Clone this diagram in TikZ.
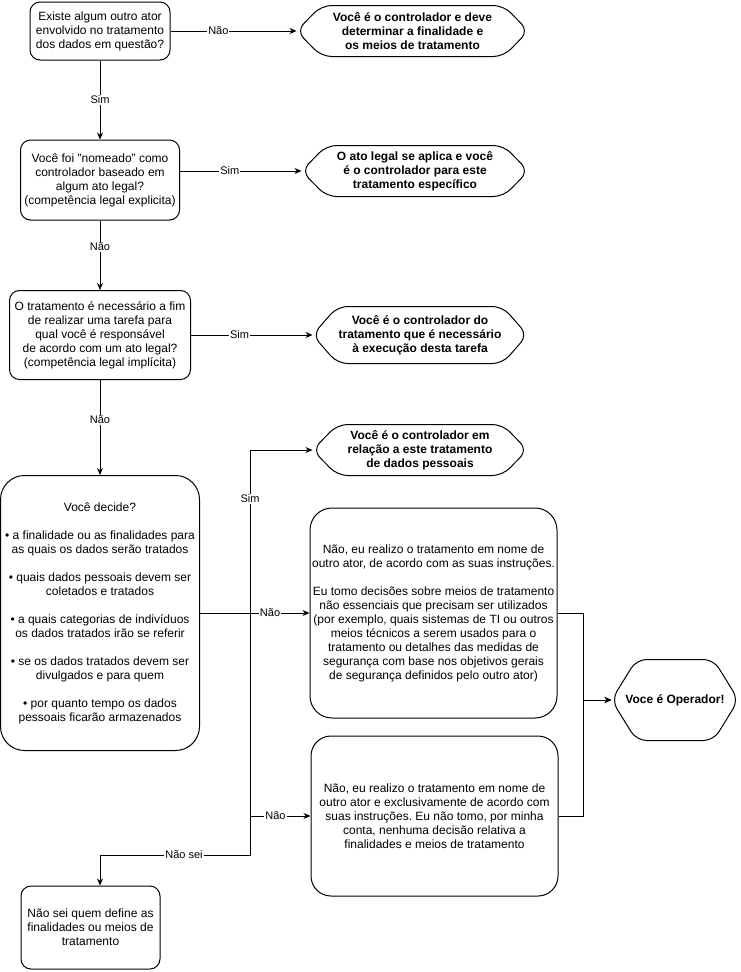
\documentclass[tikz,border=0pt]{standalone}
\usepackage{fontspec}
\setmainfont{Liberation Sans}
\frenchspacing
\usetikzlibrary{arrows.meta,calc}
\tikzset{
  question/.style={
    draw,
    rounded corners=10pt,
    align=center,
    inner sep=0pt,
    font=\fontsize{12}{14}\selectfont
  },
  answer/.style={
    question,
    rounded corners=24pt
  },
  verdict/.style={
    align=center,
    inner sep=0pt,
    font=\fontsize{12}{14}\selectfont\bfseries
  },
  choice/.style={
    fill=white,
    inner sep=1pt,
    font=\fontsize{11}{13}\selectfont
  },
  flow/.style={-{Stealth[length=7pt,width=6pt]}}
}
\newcommand{\hexframe}[1]{%
  \draw[rounded corners=10pt] (#1.north) -- ([xshift=-25pt]#1.north east) -- (#1.east)
    -- ([xshift=-25pt]#1.south east) -- ([xshift=25pt]#1.south west) -- (#1.west)
    -- ([xshift=25pt]#1.north west) -- cycle;}

\begin{document}
\begin{tikzpicture}[x=1pt,y=-1pt,line width=1pt]
  \useasboundingbox (0,0) rectangle (741,972);
  % perguntas
  \node[question,minimum width=140pt,minimum height=58pt] (q1) at (100,31)
    {Existe algum outro ator\\envolvido no tratamento\\dos dados em questão?};
  \node[question,minimum width=159pt,minimum height=80pt] (q2) at (100,180)
    {Você foi "nomeado" como\\controlador baseado em\\algum ato legal?\\(competência legal explicita)};
  \node[question,minimum width=181pt,minimum height=89pt] (q3) at (100,335)
    {O tratamento é necessário a fim\\de realizar uma tarefa para\\qual você é responsável\\de acordo com um ato legal?\\(competência legal implícita)};
  \node[answer,minimum width=199pt,minimum height=275pt] (q4) at (100,613)
    {Você decide?\\[14pt]
     • a finalidade ou as finalidades para\\as quais os dados serão tratados\\[14pt]
     • quais dados pessoais devem ser\\coletados e tratados\\[14pt]
     • a quais categorias de indivíduos\\os dados tratados irão se referir\\[14pt]
     • se os dados tratados devem ser\\divulgados e para quem\\[14pt]
     • por quanto tempo os dados\\pessoais ficarão armazenados};
  \node[answer,rounded corners=22pt,minimum width=247pt,minimum height=210pt] (a) at (433.5,613)
    {Não, eu realizo o tratamento em nome de\\outro ator, de acordo com as suas instruções.\\[14pt]
     Eu tomo decisões sobre meios de tratamento\\não essenciais que precisam ser utilizados\\(por exemplo, quais sistemas de TI ou outros\\meios técnicos a serem usados para o\\tratamento ou detalhes das medidas de\\segurança com base nos objetivos gerais\\de segurança definidos pelo outro ator)};
  \node[answer,rounded corners=20pt,minimum width=247pt,minimum height=160pt] (b) at (434.5,816)
    {Não, eu realizo o tratamento em nome de\\outro ator e exclusivamente de acordo com\\suas instruções. Eu não tomo, por minha\\conta, nenhuma decisão relativa a\\finalidades e meios de tratamento};
  \node[question,minimum width=139pt,minimum height=83pt] (c) at (90.5,927.5)
    {Não sei quem define as\\finalidades ou meios de\\tratamento};
  % respostas
  \node[verdict,minimum width=231pt,minimum height=50pt] (r1) at (412.5,31)
    {Você é o controlador e deve\\determinar a finalidade e\\os meios de tratamento};
  \node[verdict,minimum width=226pt,minimum height=50pt] (r2) at (415,171)
    {O ato legal se aplica e você\\é o controlador para este\\tratamento específico};
  \node[verdict,minimum width=214pt,minimum height=56pt] (r3) at (420,335)
    {Você é o controlador do\\tratamento que é necessário\\à execução desta tarefa};
  \node[verdict,minimum width=214pt,minimum height=50pt] (r4) at (420,450)
    {Você é o controlador em\\relação a este tratamento\\de dados pessoais};
  \node[verdict,minimum width=126pt,minimum height=80pt] (op) at (675,700)
    {Voce é Operador!};
  \foreach \v in {r1,r2,r3,r4,op}{\hexframe{\v}}
  \coordinate (jn) at (250,613);
  \coordinate (ns) at (100,855);
  \coordinate (jr) at (583,700);
  % ligacoes
  \draw[flow] (q1) -- node[choice,pos=0.38]{Não} (r1);
  \draw[flow] (q1) -- node[choice]{Sim} (q2);
  \draw[flow] (q2.east |- r2.west) -- node[choice,pos=0.41]{Sim} (r2.west);
  \draw[flow] (q2) -- node[choice,pos=0.38]{Não} (q3);
  \draw[flow] (q3) -- node[choice,pos=0.4]{Sim} (r3);
  \draw[flow] (q3) -- node[choice,pos=0.42]{Não} (q4);
  \draw[flow] (q4.east) -- (jn) |- node[choice,pos=0.35]{Sim} (r4.west);
  \draw[flow] (q4.east) -- node[choice,pos=0.64]{Não} (a.west);
  \draw[flow] (q4.east) -- (jn) |- node[choice,pos=0.71]{Não} (b.west);
  \draw[flow] (q4.east) -- (jn) |- node[choice,pos=0.72]{Não sei} (ns) -- (ns |- c.north);
  \draw[flow] (a.east) -| (jr) -- (op.west);
  \draw[flow] (b.east) -| (jr) -- (op.west);
\end{tikzpicture}
\end{document}
